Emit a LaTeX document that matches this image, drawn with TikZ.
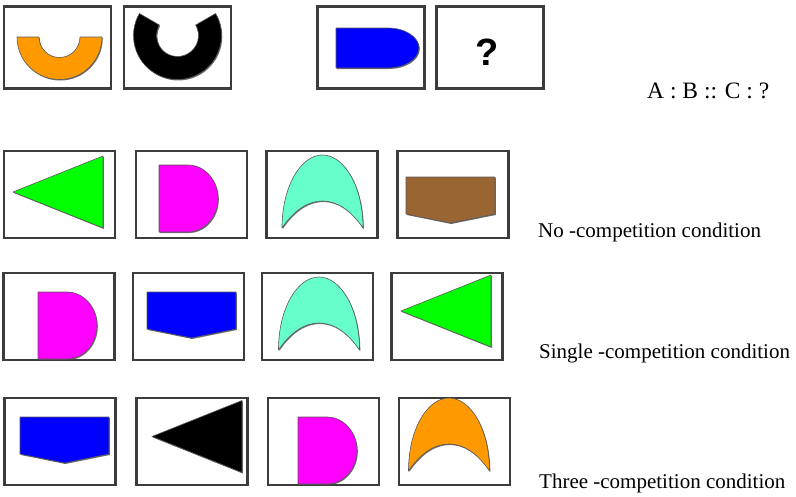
\documentclass[tikz,border=0pt]{standalone}
\usepackage{fontspec}
\setmainfont{Liberation Serif}
\newfontfamily\qfont{Liberation Sans}
\usetikzlibrary{shadows}
\definecolor{ringorange}{HTML}{FF9900}
\definecolor{aqua}{HTML}{66FFCC}
\definecolor{clay}{HTML}{996633}
\definecolor{fuchsia}{HTML}{FF00FF}
\definecolor{lime}{HTML}{00FF00}
\definecolor{pureblue}{HTML}{0000FF}
\definecolor{frame}{HTML}{3C3C3C}
\begin{document}
\begin{tikzpicture}[
        x=1pt, y=-1pt,
        panel/.style={draw=frame, line width=2.2pt, inner sep=0pt, minimum width=111pt, minimum height=87pt},
        toppanel/.style={panel, minimum width=107pt, minimum height=82pt},
        shp/.style={draw=black!65, line width=0.6pt, line join=round,
            drop shadow={shadow xshift=0.8pt, shadow yshift=-1pt, fill=black!70, opacity=0.8}},
        lbl/.style={anchor=base west, inner sep=0pt, font=\fontsize{21}{25}\selectfont},
        halfring/.pic={\path[shp, pic actions] (-42.5,0) arc[start angle=180, end angle=0, radius=42.5]
            -- (20.5,0) arc[start angle=0, end angle=180, radius=20.5] -- cycle;},
        openring/.pic={\path[shp, pic actions] (210:44) arc[start angle=210, end angle=-30, radius=44]
            -- (-30:21) arc[start angle=-30, end angle=210, radius=21] -- cycle;},
        bullet/.pic={\path[shp, pic actions] (0,0) -- (52,0) arc[start angle=-90, end angle=90, x radius=31, y radius=20]
            -- (0,40) -- cycle;},
        dee/.pic={\path[shp, pic actions] (0,0) -- (29,0) arc[start angle=-90, end angle=90, x radius=30, y radius=33.5]
            -- (0,67) -- cycle;},
        wedge/.pic={\path[shp, pic actions] (-90,0) -- (0,-36) -- (0,36) -- cycle;},
        pent/.pic={\path[shp, pic actions] (0,0) -- (89,0) -- (89,37) -- (44.5,46) -- (0,37) -- cycle;},
        arch/.pic={\path[shp, pic actions] (0,0) .. controls (0,-42) and (19,-73) .. (40.5,-73)
            .. controls (62,-73) and (81,-42) .. (81,0)
            .. controls (68,-19) and (54,-27) .. (40.5,-27)
            .. controls (27,-27) and (13,-19) .. (0,0) -- cycle;}
    ]
    \useasboundingbox (0,0) rectangle (796,496);

    % analogy A : B :: C : ?
    \node[toppanel] (a) at (57.5,47.5) {};
    \node[toppanel] (b) at (177.5,47.5) {};
    \node[toppanel] (c) at (371,47.5) {};
    \node[toppanel] (d) at (490,47.5) {};
    \pic[fill=ringorange] at (59.5,37) {halfring};
    \pic[fill=black] at (177.5,35.5) {openring};
    \pic[fill=pureblue] at (336,28) {bullet};
    \node[font=\qfont\bfseries\fontsize{38}{40}\selectfont, inner sep=0pt] (qm) at (487.5,52.5) {?};
    \node[anchor=base west, inner sep=0pt, font=\fontsize{23.5}{28}\selectfont] (rel) at (647,98) {A : B :: C : ?};

    % no competition
    \node[panel] (n1) at (59.5,194.5) {};
    \node[panel] (n2) at (191.5,194.5) {};
    \node[panel] (n3) at (322,194.5) {};
    \node[panel] (n4) at (453,194.5) {};
    \pic[fill=lime] at (103,192) {wedge};
    \pic[fill=fuchsia] at (159,165) {dee};
    \pic[fill=aqua] at (282,228) {arch};
    \pic[fill=clay] at (406,177) {pent};
    \node[lbl] (nolbl) at (538,237) {No -competition condition};

    % single competition
    \node[panel] (s1) at (59,316.5) {};
    \node[panel] (s2) at (188.5,316.5) {};
    \node[panel] (s3) at (317.5,316.5) {};
    \node[panel] (s4) at (447,316.5) {};
    \pic[fill=fuchsia] at (38,292) {dee};
    \pic[fill=pureblue] at (147,292) {pent};
    \pic[fill=aqua] at (278.5,350) {arch};
    \pic[fill=lime] at (491,311) {wedge};
    \node[lbl] (slbl) at (539,358) {Single -competition condition};

    % three competition
    \node[panel] (t1) at (60,441.5) {};
    \node[panel] (t2) at (192,441.5) {};
    \node[panel] (t3) at (323.5,441.5) {};
    \node[panel] (t4) at (454.5,441.5) {};
    \pic[fill=pureblue] at (20,417) {pent};
    \pic[fill=black] at (242,436.5) {wedge};
    \pic[fill=fuchsia] at (298,417) {dee};
    \pic[fill=ringorange] at (408.5,471) {arch};
    \node[lbl] (tlbl) at (539,488) {Three -competition condition};
\end{tikzpicture}
\end{document}
